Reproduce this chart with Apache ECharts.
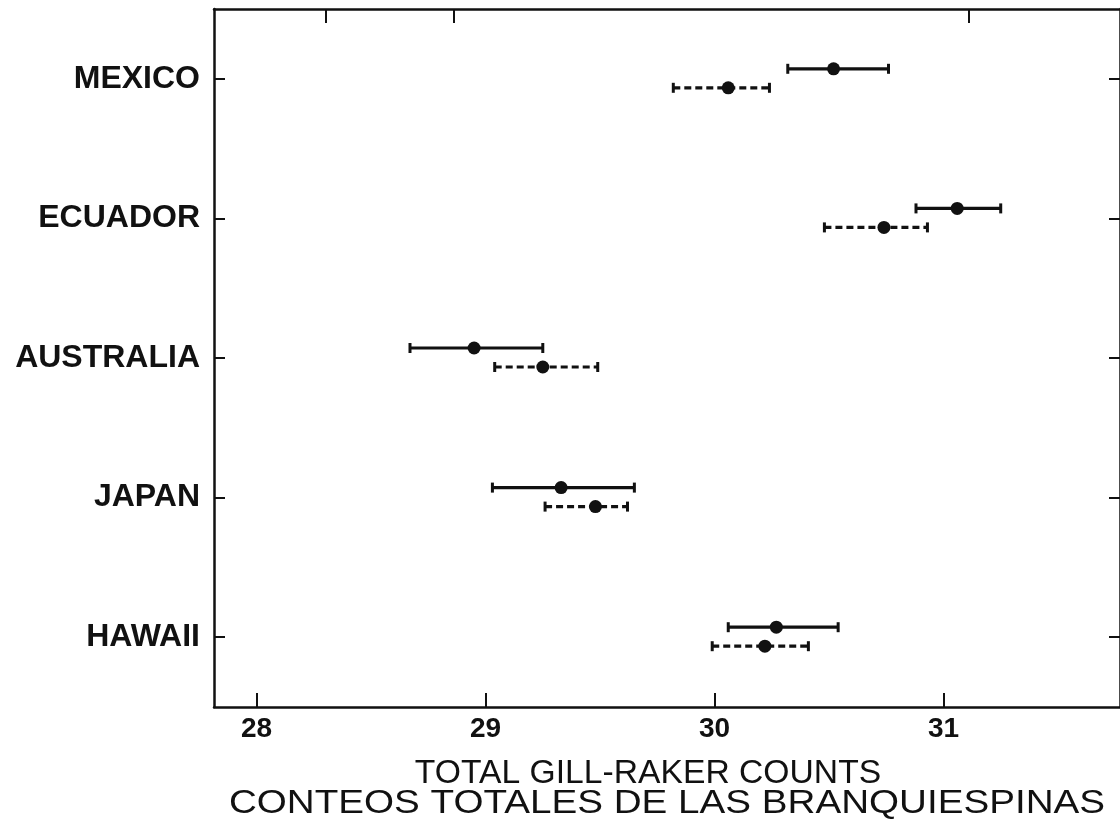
<!DOCTYPE html>
<html>
<head>
<meta charset="utf-8">
<script src="https://cdn.jsdelivr.net/npm/echarts@6/dist/echarts.min.js"></script>
<style>html,body{margin:0;padding:0;background:#fff;}#c{width:1120px;height:825px;}</style>
</head>
<body>
<div id="c"></div>
<script>
const categories = ['MEXICO', 'ECUADOR', 'AUSTRALIA', 'JAPAN', 'HAWAII'];
// solid bars (upper)
const solidLow  = [30.32, 30.88, 28.67, 29.03, 30.06];
const solidMean = [30.52, 31.06, 28.95, 29.33, 30.27];
const solidHigh = [30.76, 31.25, 29.25, 29.65, 30.54];
// dashed bars (lower)
const dashLow  = [29.82, 30.48, 29.04, 29.26, 29.99];
const dashMean = [30.06, 30.74, 29.25, 29.48, 30.22];
const dashHigh = [30.24, 30.93, 29.49, 29.62, 30.41];
const xTicks = [28, 29, 30, 31];
const topTicks = [28.3, 28.86, 31.11];
const xMin = 27.814, xMax = 31.771;
const xTitle1 = 'TOTAL GILL-RAKER COUNTS';
const xTitle2 = 'CONTEOS TOTALES DE LAS BRANQUIESPINAS';

function build(lo, mean, hi) {
  return categories.map((c, i) => [lo[i], mean[i], hi[i], i]);
}
function makeRender(offset, dashed) {
  return function (params, api) {
    const idx = api.value(3);
    const a = api.coord([api.value(0), idx]);
    const m = api.coord([api.value(1), idx]);
    const b = api.coord([api.value(2), idx]);
    const y = a[1] + offset;
    const st = { stroke: '#111', lineWidth: 3.2, lineDash: dashed ? [7, 4] : null };
    const cap = { stroke: '#111', lineWidth: 3 };
    return {
      type: 'group',
      children: [
        { type: 'line', shape: { x1: a[0], y1: y, x2: b[0], y2: y }, style: st },
        { type: 'line', shape: { x1: a[0], y1: y - 5, x2: a[0], y2: y + 5 }, style: cap },
        { type: 'line', shape: { x1: b[0], y1: y - 5, x2: b[0], y2: y + 5 }, style: cap },
        { type: 'circle', shape: { cx: m[0], cy: y, r: 6.5 }, style: { fill: '#111' } }
      ]
    };
  };
}
const axisLineStyle = { color: '#111', width: 2.5 };
const font = '"Liberation Sans", Arial, Helvetica, sans-serif';
const chart = echarts.init(document.getElementById('c'), null, { renderer: 'canvas' });
chart.setOption({
  backgroundColor: '#fff',
  animation: false,
  grid: { left: 214, top: 9, width: 914, bottom: 118 },
  graphic: [{
    type: 'text', x: 648, y: 774, scaleX: 1.02,
    style: { text: xTitle1, font: '33px ' + font, fill: '#111', textAlign: 'center', textVerticalAlign: 'middle' }
  }, {
    type: 'text', x: 667, y: 804, scaleX: 1.17,
    style: { text: xTitle2, font: '33px ' + font, fill: '#111', textAlign: 'center', textVerticalAlign: 'middle' }
  }],
  xAxis: [{
    type: 'value', min: xMin, max: xMax, position: 'bottom',
    axisLine: { show: true, onZero: false, lineStyle: axisLineStyle },
    axisTick: { show: true, inside: true, length: 14, lineStyle: { color: '#111', width: 2 }, customValues: xTicks },
    axisLabel: { show: true, customValues: xTicks, fontSize: 28, fontWeight: 'bold', color: '#111', fontFamily: font, margin: 8, formatter: v => String(Math.round(v)) },
    splitLine: { show: false }
  }, {
    type: 'value', min: xMin, max: xMax, position: 'top',
    axisLine: { show: true, onZero: false, lineStyle: axisLineStyle },
    axisTick: { show: true, inside: true, length: 14, lineStyle: { color: '#111', width: 2 }, customValues: topTicks },
    axisLabel: { show: false },
    splitLine: { show: false }
  }],
  yAxis: [{
    type: 'category', data: categories, inverse: true, position: 'left',
    axisLine: { show: true, onZero: false, lineStyle: axisLineStyle },
    axisTick: { show: true, inside: true, alignWithLabel: true, length: 11, lineStyle: { color: '#111', width: 2 } },
    axisLabel: { fontSize: 32, fontWeight: 'bold', color: '#111', fontFamily: font, margin: 14 },
    splitLine: { show: false }
  }, {
    type: 'category', data: categories, inverse: true, position: 'right',
    axisLine: { show: true, onZero: false, lineStyle: axisLineStyle },
    axisTick: { show: true, inside: true, alignWithLabel: true, length: 11, lineStyle: { color: '#111', width: 2 } },
    axisLabel: { show: false },
    splitLine: { show: false }
  }],
  series: [{
    type: 'custom', name: 'solid', xAxisIndex: 0, yAxisIndex: 0,
    renderItem: makeRender(-10, false),
    encode: { x: [0, 1, 2], y: 3 },
    data: build(solidLow, solidMean, solidHigh)
  }, {
    type: 'custom', name: 'dashed', xAxisIndex: 0, yAxisIndex: 0,
    renderItem: makeRender(9, true),
    encode: { x: [0, 1, 2], y: 3 },
    data: build(dashLow, dashMean, dashHigh)
  }]
});
</script>
</body>
</html>
